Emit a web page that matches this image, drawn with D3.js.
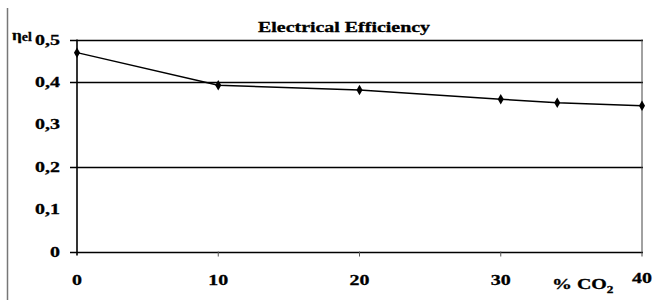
<!DOCTYPE html>
<html><head><meta charset="utf-8">
<script src="https://cdn.jsdelivr.net/npm/d3@7"></script>
<style>body{margin:0;background:#fff}svg{display:block}</style>
</head><body>
<svg id="c" width="658" height="300"></svg>
<script>
const xValues = [0, 10, 20, 30, 34, 40];
const efficiency = [0.469, 0.392, 0.381, 0.359, 0.351, 0.344];
const xTicks = [0, 10, 20, 30, 40];
const yTicks = [0, 0.1, 0.2, 0.3, 0.4, 0.5];
const gridValues = [0, 0.2, 0.4, 0.5];
const title = "Electrical Efficiency";

const svg = d3.select("#c");
const SX = 1.33;
const x = d3.scaleLinear().domain([0, 40]).range([77, 642]);
const y = d3.scaleLinear().domain([0, 0.5]).range([251.5, 39.5]);
const font = "Liberation Serif";

// left frame line
svg.append("line").attr("x1", 7.5).attr("x2", 7.5).attr("y1", 8).attr("y2", 300)
  .attr("stroke", "#777").attr("stroke-width", 1.5);

// gridlines (incl. top border and x-axis)
svg.append("g").selectAll("line").data(gridValues).join("line")
  .attr("x1", 70).attr("x2", x(40) + 1)
  .attr("y1", d => Math.round(y(d)) + 0.5).attr("y2", d => Math.round(y(d)) + 0.5)
  .attr("stroke", "#000").attr("stroke-width", 1.4);

// left axis and right border
svg.append("line").attr("x1", x(0)).attr("x2", x(0)).attr("y1", y(0.5)).attr("y2", y(0) + 4)
  .attr("stroke", "#000").attr("stroke-width", 1.6);
svg.append("line").attr("x1", x(40)).attr("x2", x(40)).attr("y1", y(0.5)).attr("y2", y(0) + 5)
  .attr("stroke", "#444").attr("stroke-width", 1);

// x ticks
svg.append("g").selectAll("line").data(xTicks.slice(1, 4)).join("line")
  .attr("x1", d => x(d)).attr("x2", d => x(d)).attr("y1", y(0)).attr("y2", y(0) + 5)
  .attr("stroke", "#555").attr("stroke-width", 1);

const txt = sel => sel.attr("font-family", font).attr("font-weight", "bold")
  .attr("font-size", 15).attr("stroke", "#000").attr("stroke-width", 0.3);

// y tick labels
svg.append("g").selectAll("text").data(yTicks).join("text")
  .attr("transform", d => `translate(60,${y(d) + 5}) scale(${SX},1)`)
  .attr("text-anchor", "end")
  .call(txt)
  .text(d => d3.format(".1f")(d).replace(".", ",").replace(/^0,0$/, "0"));

// x tick labels
svg.append("g").selectAll("text").data(xTicks).join("text")
  .attr("transform", d => `translate(${x(d)},${d === 40 ? 283 : 285}) scale(${SX},1)`)
  .attr("text-anchor", "middle")
  .call(txt)
  .text(d => d);

// x axis title
const xt = svg.append("text")
  .attr("transform", `translate(552,289) scale(${SX},1)`)
  .call(txt);
xt.append("tspan").text("% CO");
xt.append("tspan").attr("font-size", 10).attr("dy", 4).text("2");

// y axis title
const yt = svg.append("text")
  .attr("transform", `translate(12,40) scale(1.15,1)`)
  .call(txt);
yt.append("tspan").text("η");
yt.append("tspan").attr("font-size", 12).attr("dy", 1).text("el");

// chart title
svg.append("text")
  .attr("transform", `translate(344,32) scale(${SX},1)`)
  .attr("text-anchor", "middle")
  .call(txt)
  .text(title);

// data line
const pts = xValues.map((v, i) => [v, efficiency[i]]);
svg.append("path").datum(pts)
  .attr("d", d3.line().x(d => x(d[0])).y(d => y(d[1])))
  .attr("fill", "none").attr("stroke", "#000").attr("stroke-width", 1.5);

svg.append("g").selectAll("path").data(pts).join("path")
  .attr("d", d3.symbol(d3.symbolDiamond, 32))
  .attr("transform", d => `translate(${x(d[0])},${y(d[1])})`)
  .attr("fill", "#000");
</script>
</body></html>
